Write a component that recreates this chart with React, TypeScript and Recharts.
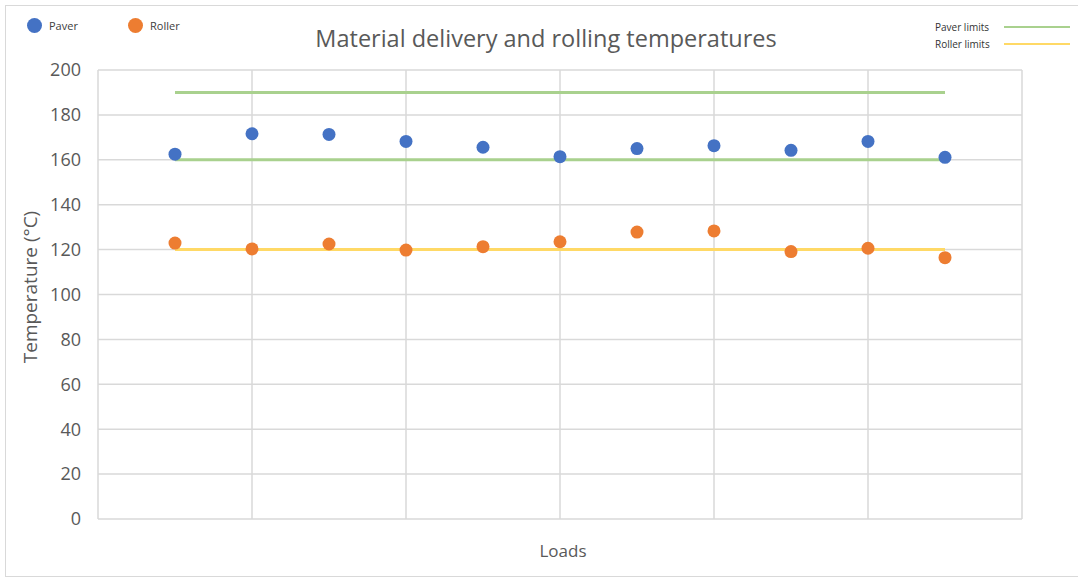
import { ScatterChart, Scatter, XAxis, YAxis, CartesianGrid } from 'recharts';

const loads = [1, 2, 3, 4, 5, 6, 7, 8, 9, 10, 11];
const paverTemps = [162.5, 171.6, 171.3, 168.2, 165.6, 161.4, 165, 166.3, 164.2, 168.2, 161.1];
const rollerTemps = [122.9, 120.3, 122.5, 119.8, 121.3, 123.5, 127.8, 128.3, 119.1, 120.6, 116.4];

const limitLoads = [1, 11];
const paverUpperLimit = 190;
const paverLowerLimit = 160;
const rollerLimit = 120;

const yTicks = [0, 20, 40, 60, 80, 100, 120, 140, 160, 180, 200];
const xTicks = [0, 2, 4, 6, 8, 10, 12];

const C = {
  paver: '#4472C4',
  roller: '#ED7D31',
  paverLimit: '#A9D18E',
  rollerLimit: '#FFD966',
  grid: '#d9d9d9',
  text: '#595959',
};

const FONT = '"Open Sans", sans-serif';

const paverData = loads.map((x, i) => ({ x, y: paverTemps[i] }));
const rollerData = loads.map((x, i) => ({ x, y: rollerTemps[i] }));
const limitLine = (y: number) => limitLoads.map((x) => ({ x, y }));

const noDot = () => <g />;

export default function App() {
  return (
    <div
      style={{
        position: 'absolute',
        left: 0,
        top: 0,
        width: 1078,
        height: 580,
        background: '#fff',
        fontFamily: FONT,
      }}
    >
      <div
        style={{
          position: 'absolute',
          left: 5,
          top: 5,
          width: 1080,
          height: 572,
          border: '1px solid #d9d9d9',
          boxSizing: 'border-box',
        }}
      />
      <ScatterChart
        width={1078}
        height={580}
        margin={{ top: 70, right: 56, bottom: 31, left: 38 }}
        style={{ position: 'absolute', left: 0, top: 0 }}
      >
        <CartesianGrid stroke={C.grid} strokeWidth={1.5} />
        <XAxis
          type="number"
          dataKey="x"
          domain={[0, 12]}
          ticks={xTicks}
          tick={() => <g />}
          tickLine={false}
          axisLine={false}
          height={30}
        />
        <YAxis
          type="number"
          dataKey="y"
          domain={[0, 200]}
          ticks={yTicks}
          tickLine={false}
          axisLine={false}
          width={60}
          tickMargin={11}
          tick={{ fontSize: 18, fill: C.text, fontFamily: FONT }}
        />
        <Scatter
          name="Paver limits"
          data={limitLine(paverUpperLimit)}
          line={{ stroke: C.paverLimit, strokeWidth: 3 }}
          shape={noDot}
          isAnimationActive={false}
        />
        <Scatter
          name="Paver limits lower"
          data={limitLine(paverLowerLimit)}
          line={{ stroke: C.paverLimit, strokeWidth: 3 }}
          shape={noDot}
          isAnimationActive={false}
        />
        <Scatter
          name="Roller limits"
          data={limitLine(rollerLimit)}
          line={{ stroke: C.rollerLimit, strokeWidth: 3 }}
          shape={noDot}
          isAnimationActive={false}
        />
        <Scatter
          name="Paver"
          data={paverData}
          fill={C.paver}
          shape={(p: any) => <circle cx={p.cx} cy={p.cy} r={6.5} fill={C.paver} />}
          isAnimationActive={false}
        />
        <Scatter
          name="Roller"
          data={rollerData}
          fill={C.roller}
          shape={(p: any) => <circle cx={p.cx} cy={p.cy} r={6.5} fill={C.roller} />}
          isAnimationActive={false}
        />
      </ScatterChart>

      {/* title and axis titles */}
      <div
        style={{
          position: 'absolute',
          left: 0,
          width: 1092,
          top: 23,
          textAlign: 'center',
          fontSize: 23.5,
          color: C.text,
          lineHeight: '30px',
        }}
      >
        Material delivery and rolling temperatures
      </div>
      <div
        style={{
          position: 'absolute',
          left: 0,
          width: 1126,
          top: 538,
          textAlign: 'center',
          fontSize: 17,
          color: C.text,
          lineHeight: '26px',
        }}
      >
        Loads
      </div>
      <div
        style={{
          position: 'absolute',
          left: 30,
          top: 287,
          transform: 'translate(-50%, -50%) rotate(-90deg)',
          whiteSpace: 'nowrap',
          fontSize: 19,
          color: C.text,
        }}
      >
        Temperature (°C)
      </div>

      {/* point legend, top left */}
      {[
        { label: 'Paver', color: C.paver, x: 27 },
        { label: 'Roller', color: C.roller, x: 128 },
      ].map((item) => (
        <div
          key={item.label}
          style={{
            position: 'absolute',
            left: item.x,
            top: 18,
            display: 'flex',
            alignItems: 'center',
            fontSize: 11,
            color: '#404040',
          }}
        >
          <span
            style={{
              width: 15,
              height: 15,
              borderRadius: '50%',
              background: item.color,
              display: 'inline-block',
              marginRight: 7,
            }}
          />
          {item.label}
        </div>
      ))}

      {/* limit legend, top right */}
      {[
        { label: 'Paver limits', color: C.paverLimit, y: 20 },
        { label: 'Roller limits', color: C.rollerLimit, y: 37 },
      ].map((item) => (
        <div
          key={item.label}
          style={{
            position: 'absolute',
            left: 935,
            top: item.y,
            display: 'flex',
            alignItems: 'center',
            fontSize: 10,
            color: '#333',
            lineHeight: '14px',
          }}
        >
          <span style={{ width: 64, textAlign: 'left' }}>{item.label}</span>
          <span
            style={{
              width: 66,
              height: 2,
              background: item.color,
              display: 'inline-block',
              marginLeft: 5,
            }}
          />
        </div>
      ))}
    </div>
  );
}
